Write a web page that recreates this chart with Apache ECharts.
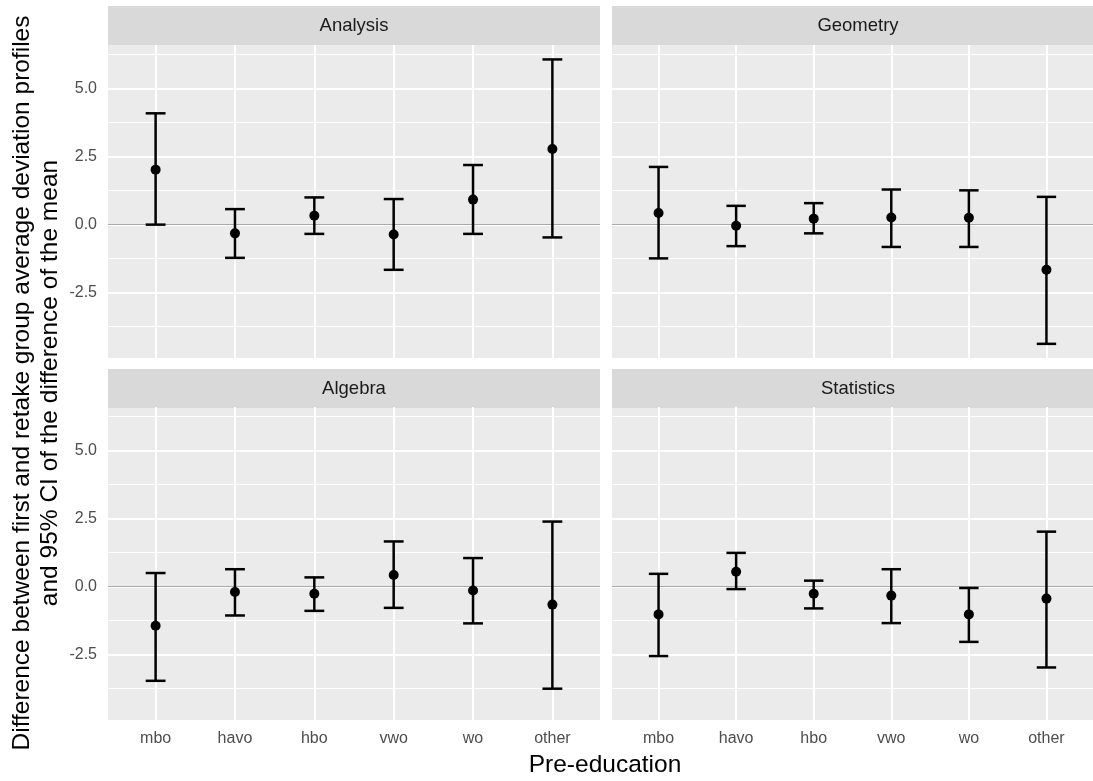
<!DOCTYPE html>
<html>
<head>
<meta charset="utf-8">
<script src="https://cdn.jsdelivr.net/npm/echarts@6/dist/echarts.min.js"></script>
<style>
  html, body { margin: 0; padding: 0; background: #fff; }
  #chart { width: 1093px; height: 781px; }
</style>
</head>
<body>
<div id="chart"></div>
<script>
// pre-education categories, x positions 1..6
const categories = ['mbo', 'havo', 'hbo', 'vwo', 'wo', 'other'];
const panelNames = ['Analysis', 'Geometry', 'Algebra', 'Statistics'];

const analysisMean  = [2.02, -0.32, 0.33, -0.36, 0.92, 2.78];
const analysisLower = [0.00, -1.22, -0.34, -1.66, -0.34, -0.47];
const analysisUpper = [4.09, 0.57, 1.00, 0.94, 2.19, 6.07];

const geometryMean  = [0.43, -0.04, 0.22, 0.26, 0.25, -1.66];
const geometryLower = [-1.24, -0.79, -0.32, -0.82, -0.82, -4.38];
const geometryUpper = [2.12, 0.69, 0.79, 1.29, 1.26, 1.02];

const algebraMean  = [-1.44, -0.20, -0.26, 0.43, -0.14, -0.66];
const algebraLower = [-3.46, -1.06, -0.89, -0.78, -1.35, -3.75];
const algebraUpper = [0.50, 0.64, 0.34, 1.66, 1.05, 2.39];

const statisticsMean  = [-1.02, 0.55, -0.26, -0.33, -1.02, -0.44];
const statisticsLower = [-2.55, -0.09, -0.80, -1.34, -2.03, -2.97];
const statisticsUpper = [0.47, 1.24, 0.22, 0.64, -0.05, 2.02];

const yMajor = [-2.5, 0, 2.5, 5];
const yMinor = [-3.75, -1.25, 1.25, 3.75, 6.25];

const panelData = [
  [analysisMean, analysisLower, analysisUpper],
  [geometryMean, geometryLower, geometryUpper],
  [algebraMean, algebraLower, algebraUpper],
  [statisticsMean, statisticsLower, statisticsUpper]
];

// facet layout (2 x 2), right column runs past the page edge like the original
const layout = [
  { left: 108, top: 45, stripTop: 6 },
  { left: 612, top: 45, stripTop: 6 },
  { left: 108, top: 407, stripTop: 369 },
  { left: 612, top: 407, stripTop: 369 }
];
const panelW = 492, panelH = 313, stripH = 39;

const xPos = categories.map((c, i) => i + 1);
const font = 'Liberation Sans, Arial, sans-serif';

const chart = echarts.init(document.getElementById('chart'));

const grids = [], xAxes = [], yAxes = [], series = [], graphics = [];

panelNames.forEach((name, p) => {
  const L = layout[p];
  const isLeft = p % 2 === 0;
  const isBottom = p >= 2;
  const [mean, lower, upper] = panelData[p];

  grids.push({
    left: L.left, top: L.top, width: panelW, height: panelH,
    show: true, backgroundColor: '#EBEBEB', borderWidth: 0
  });

  xAxes.push({
    gridIndex: p, type: 'value', min: 0.4, max: 6.6,
    axisLine: { show: false }, axisTick: { show: false }, splitLine: { show: false },
    axisLabel: {
      show: isBottom, customValues: xPos, margin: 11,
      color: '#4D4D4D', fontSize: 16, fontFamily: font,
      formatter: v => categories[Math.round(v) - 1]
    }
  });

  yAxes.push({
    gridIndex: p, type: 'value', min: -4.9, max: 6.6,
    axisLine: { show: false }, axisTick: { show: false }, splitLine: { show: false },
    axisLabel: {
      show: isLeft, customValues: yMajor, margin: 11,
      color: '#4D4D4D', fontSize: 16, fontFamily: font,
      formatter: v => v.toFixed(1)
    }
  });

  // points + panel grid lines
  series.push({
    type: 'scatter', xAxisIndex: p, yAxisIndex: p, z: 4,
    symbolSize: 10, itemStyle: { color: '#000', opacity: 1 },
    data: mean.map((m, i) => [xPos[i], m]),
    silent: true,
    markLine: {
      silent: true, symbol: ['none', 'none'], z: 1, animation: false,
      label: { show: false },
      data: [
        ...yMinor.map(v => ({ yAxis: v, lineStyle: { color: '#fff', width: 1, type: 'solid' } })),
        ...yMajor.map(v => ({ yAxis: v, lineStyle: { color: '#fff', width: 2, type: 'solid' } })),
        ...xPos.map(v => ({ xAxis: v, lineStyle: { color: '#fff', width: 2, type: 'solid' } }))
      ]
    }
  });

  // error bars
  series.push({
    type: 'custom', xAxisIndex: p, yAxisIndex: p, z: 3, silent: true,
    data: mean.map((m, i) => [xPos[i], lower[i], upper[i]]),
    renderItem: (params, api) => {
      const x = api.value(0);
      const lo = api.coord([x, api.value(1)]);
      const hi = api.coord([x, api.value(2)]);
      const hw = api.size([0.25, 0])[0] / 2;
      const st = { stroke: '#000', lineWidth: 2.5 };
      return {
        type: 'group',
        children: [
          { type: 'line', shape: { x1: lo[0], y1: lo[1], x2: hi[0], y2: hi[1] }, style: st },
          { type: 'line', shape: { x1: hi[0] - hw, y1: hi[1], x2: hi[0] + hw, y2: hi[1] }, style: st },
          { type: 'line', shape: { x1: lo[0] - hw, y1: lo[1], x2: lo[0] + hw, y2: lo[1] }, style: st }
        ]
      };
    },
    markLine: {
      silent: true, symbol: ['none', 'none'], z: 2, animation: false,
      label: { show: false },
      data: [{ yAxis: 0, lineStyle: { color: '#A8A8A8', width: 1.2, type: 'solid' } }]
    }
  });

  // facet strip
  graphics.push({
    type: 'rect', left: L.left, top: L.stripTop, silent: true,
    shape: { width: panelW, height: stripH },
    style: { fill: '#D9D9D9' }
  });
  graphics.push({
    type: 'text', silent: true,
    x: L.left + panelW / 2, y: L.stripTop + stripH / 2,
    style: {
      text: name, font: '18.5px ' + font, fill: '#1A1A1A',
      textAlign: 'center', textVerticalAlign: 'middle', align: 'center', verticalAlign: 'middle'
    }
  });
});

// axis titles
graphics.push({
  type: 'text', silent: true, x: 605, y: 765,
  style: {
    text: 'Pre-education', font: '24.5px ' + font, fill: '#000',
    textAlign: 'center', textVerticalAlign: 'middle', align: 'center', verticalAlign: 'middle'
  }
});
graphics.push({
  type: 'text', silent: true, x: 36, y: 383, rotation: Math.PI / 2,
  style: {
    text: 'Difference between first and retake group average deviation profiles\nand 95% CI of the difference of the mean',
    font: '24.5px ' + font, fill: '#000', lineHeight: 28,
    textAlign: 'center', textVerticalAlign: 'middle', align: 'center', verticalAlign: 'middle'
  }
});

chart.setOption({
  animation: false,
  backgroundColor: '#fff',
  grid: grids,
  xAxis: xAxes,
  yAxis: yAxes,
  series: series,
  graphic: graphics
});
</script>
</body>
</html>
